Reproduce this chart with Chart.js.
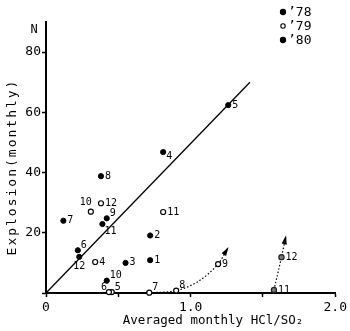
<!DOCTYPE html>
<html>
<head>
<meta charset="utf-8">
<script src="https://cdn.jsdelivr.net/npm/chart.js@4/dist/chart.umd.min.js"></script>
<style>
html,body{margin:0;padding:0;background:#fff;}
canvas{display:block;}
</style>
</head>
<body>
<canvas id="c" width="350" height="331"></canvas>
<script>
// ---- data ----
const months78 = [1,2,3,4,5,6,7,8,9,10,11,12];
const x78 = [0.72,0.72,0.55,0.81,1.26,0.22,0.12,0.38,0.42,0.42,0.39,0.23];
const y78 = [10.9,19.1,10.0,46.8,62.4,14.2,24.0,38.8,24.8,4.1,22.9,12.0];

const months79 = [4,5,6,7,8,9,10,11,12];
const x79 = [0.34,0.455,0.435,0.714,0.90,1.19,0.31,0.81,0.38];
const y79 = [10.3,0.3,0.3,0.1,0.8,9.6,27.0,26.9,29.8];

const months80 = [11,12];
const x80 = [1.576,1.628];
const y80 = [1.0,11.9];

// trend arrows (dotted): '79 months 7-9 and '80 months 11-12, with arrow tips
const trend79X = [0.714,0.90,1.19,1.255];
const trend79Y = [0.1,0.8,9.6,14.7];
const trend80X = [1.576,1.628,1.657];
const trend80Y = [1.0,11.9,18.5];

// regression line
const regX = [0,1.41];
const regY = [0,70];

const seriesNames = ['\u201978','\u201979','\u201980'];
const xTickValues = [0,0.5,1,1.5,2];
const xTickLabels = ['0','','1.0','','2.0'];
const yTickValues = [0,20,40,60,80];
const yTickLabels = ['','20','40','60','80'];
const xTitle = 'Averaged monthly HCl/SO\u2082';
const yTitle = 'Explosion(monthly)';
const yUnit = 'N';

// ---- styles ----
const FONT = '"DejaVu Sans Mono", "Liberation Mono", monospace';
const labelPos78 = ['r','r','r','rb','r','ur','r','r','ur','ur','br','b'];
const labelPos79 = ['r','ur','ul','ur','ur','r','a','r','r'];
const labelPos80 = ['r','r'];
const OFFS = {
  r:[4,0,'left'], rb:[3,4,'left'], ur:[3,-5,'left'], ul:[-2,-5,'right'],
  br:[2,7,'left'], b:[0,10,'center'], a:[-5,-9,'center']
};

const pts = (xs,ys)=>xs.map((x,i)=>({x:x,y:ys[i]}));

const datasets = [
  {label:seriesNames[0], data:pts(x78,y78), months:months78, pos:labelPos78,
   pointRadius:2.6, pointBackgroundColor:'#000', pointBorderColor:'#000', pointBorderWidth:1, showLine:false, clip:false},
  {label:seriesNames[1], data:pts(x79,y79), months:months79, pos:labelPos79,
   pointRadius:2.5, pointBackgroundColor:'#fff', pointBorderColor:'#000', pointBorderWidth:1.2, showLine:false, clip:false},
  {label:seriesNames[2], data:pts(x80,y80), months:months80, pos:labelPos80,
   pointRadius:2.6, pointBackgroundColor:'#777', pointBorderColor:'#222', pointBorderWidth:1.2, showLine:false, clip:false},
  {label:'reg', data:pts(regX,regY), showLine:true, pointRadius:0, borderColor:'#000', borderWidth:1.3, clip:false},
  {label:'t79', data:pts(trend79X,trend79Y), showLine:true, pointRadius:0, borderColor:'#000', borderWidth:1.2,
   borderDash:[1.5,2], cubicInterpolationMode:'monotone', arrow:true, clip:false},
  {label:'t80', data:pts(trend80X,trend80Y), showLine:true, pointRadius:0, borderColor:'#000', borderWidth:1.2,
   borderDash:[1.5,2], cubicInterpolationMode:'monotone', arrow:true, clip:false}
];

const decor = {
  id:'decor',
  afterDatasetsDraw(chart){
    const ctx = chart.ctx;
    ctx.save();
    // point labels
    ctx.font = '10px ' + FONT;
    ctx.fillStyle = '#000';
    ctx.textBaseline = 'middle';
    [0,1,2].forEach(di=>{
      const ds = chart.data.datasets[di];
      const meta = chart.getDatasetMeta(di);
      meta.data.forEach((el,j)=>{
        const o = OFFS[ds.pos[j]];
        ctx.textAlign = o[2];
        ctx.fillText(String(ds.months[j]), el.x + o[0], el.y + o[1]);
      });
    });
    // arrowheads
    chart.data.datasets.forEach((ds,di)=>{
      if(!ds.arrow) return;
      const d = chart.getDatasetMeta(di).data;
      const last = d[d.length-1];
      let px = last.cp1x, py = last.cp1y;
      if(px===undefined || (Math.abs(px-last.x)<0.5 && Math.abs(py-last.y)<0.5)){ px = d[d.length-2].x; py = d[d.length-2].y; }
      const ang = Math.atan2(last.y-py, last.x-px);
      const L = 7, W = 2.6;
      ctx.beginPath();
      ctx.moveTo(last.x + Math.cos(ang)*2, last.y + Math.sin(ang)*2);
      ctx.lineTo(last.x - Math.cos(ang)*L + Math.sin(ang)*W, last.y - Math.sin(ang)*L - Math.cos(ang)*W);
      ctx.lineTo(last.x - Math.cos(ang)*L - Math.sin(ang)*W, last.y - Math.sin(ang)*L + Math.cos(ang)*W);
      ctx.closePath();
      ctx.fill();
    });
    // legend
    ctx.font = '13px ' + FONT;
    ctx.textAlign = 'left';
    const ly = [12,26,40];
    [0,1,2].forEach(i=>{
      const ds = chart.data.datasets[i];
      ctx.beginPath();
      ctx.arc(283, ly[i], i===1?2.2:2.6, 0, Math.PI*2);
      ctx.fillStyle = i===1 ? '#fff' : '#000';
      ctx.fill();
      ctx.lineWidth = 1.1; ctx.strokeStyle = '#000'; ctx.stroke();
      ctx.fillStyle = '#000';
      ctx.fillText(ds.label, 288, ly[i]+1);
    });
    // axis titles
    const ca = chart.chartArea;
    ctx.font = '12.5px ' + FONT;
    ctx.textAlign = 'center';
    ctx.fillText(xTitle, 213, 321);
    ctx.save();
    ctx.translate(13, 167);
    ctx.rotate(-Math.PI/2);
    ctx.font = '13px ' + FONT;
    try { ctx.letterSpacing = '2px'; } catch(e) {}
    ctx.fillText(yTitle, 0, 0);
    ctx.restore();
    ctx.font = '12px ' + FONT;
    ctx.textAlign = 'center';
    ctx.fillText(yUnit, 34, 30);
    ctx.restore();
  }
};

new Chart(document.getElementById('c'), {
  type:'scatter',
  data:{datasets:datasets},
  options:{
    responsive:false,
    animation:false,
    layout:{padding:{top:22,right:10,left:0,bottom:0}},
    plugins:{legend:{display:false}, tooltip:{enabled:false}},
    scales:{
      x:{
        type:'linear', min:0, max:2,
        afterBuildTicks(s){ s.ticks = xTickValues.map(v=>({value:v})); },
        afterFit(s){ s.height = 38; },
        ticks:{
          autoSkip:false, maxRotation:0, padding:3, color:'#000',
          font:{family:FONT, size:13},
          callback:(v,i)=>xTickLabels[i]
        },
        grid:{drawOnChartArea:false, drawTicks:true, tickLength:4, color:'#000', tickWidth:1.5},
        border:{display:true, color:'#000', width:2}
      },
      y:{
        type:'linear', min:0, max:90,
        afterBuildTicks(s){ s.ticks = yTickValues.map(v=>({value:v})); },
        afterFit(s){ s.width = 46; },
        ticks:{
          autoSkip:false, padding:1, color:'#000',
          font:{family:FONT, size:13},
          callback:(v,i)=>yTickLabels[i]
        },
        grid:{drawOnChartArea:false, drawTicks:true, tickLength:4, color:'#000', tickWidth:1.5},
        border:{display:true, color:'#000', width:2}
      }
    }
  },
  plugins:[decor]
});
</script>
</body>
</html>
